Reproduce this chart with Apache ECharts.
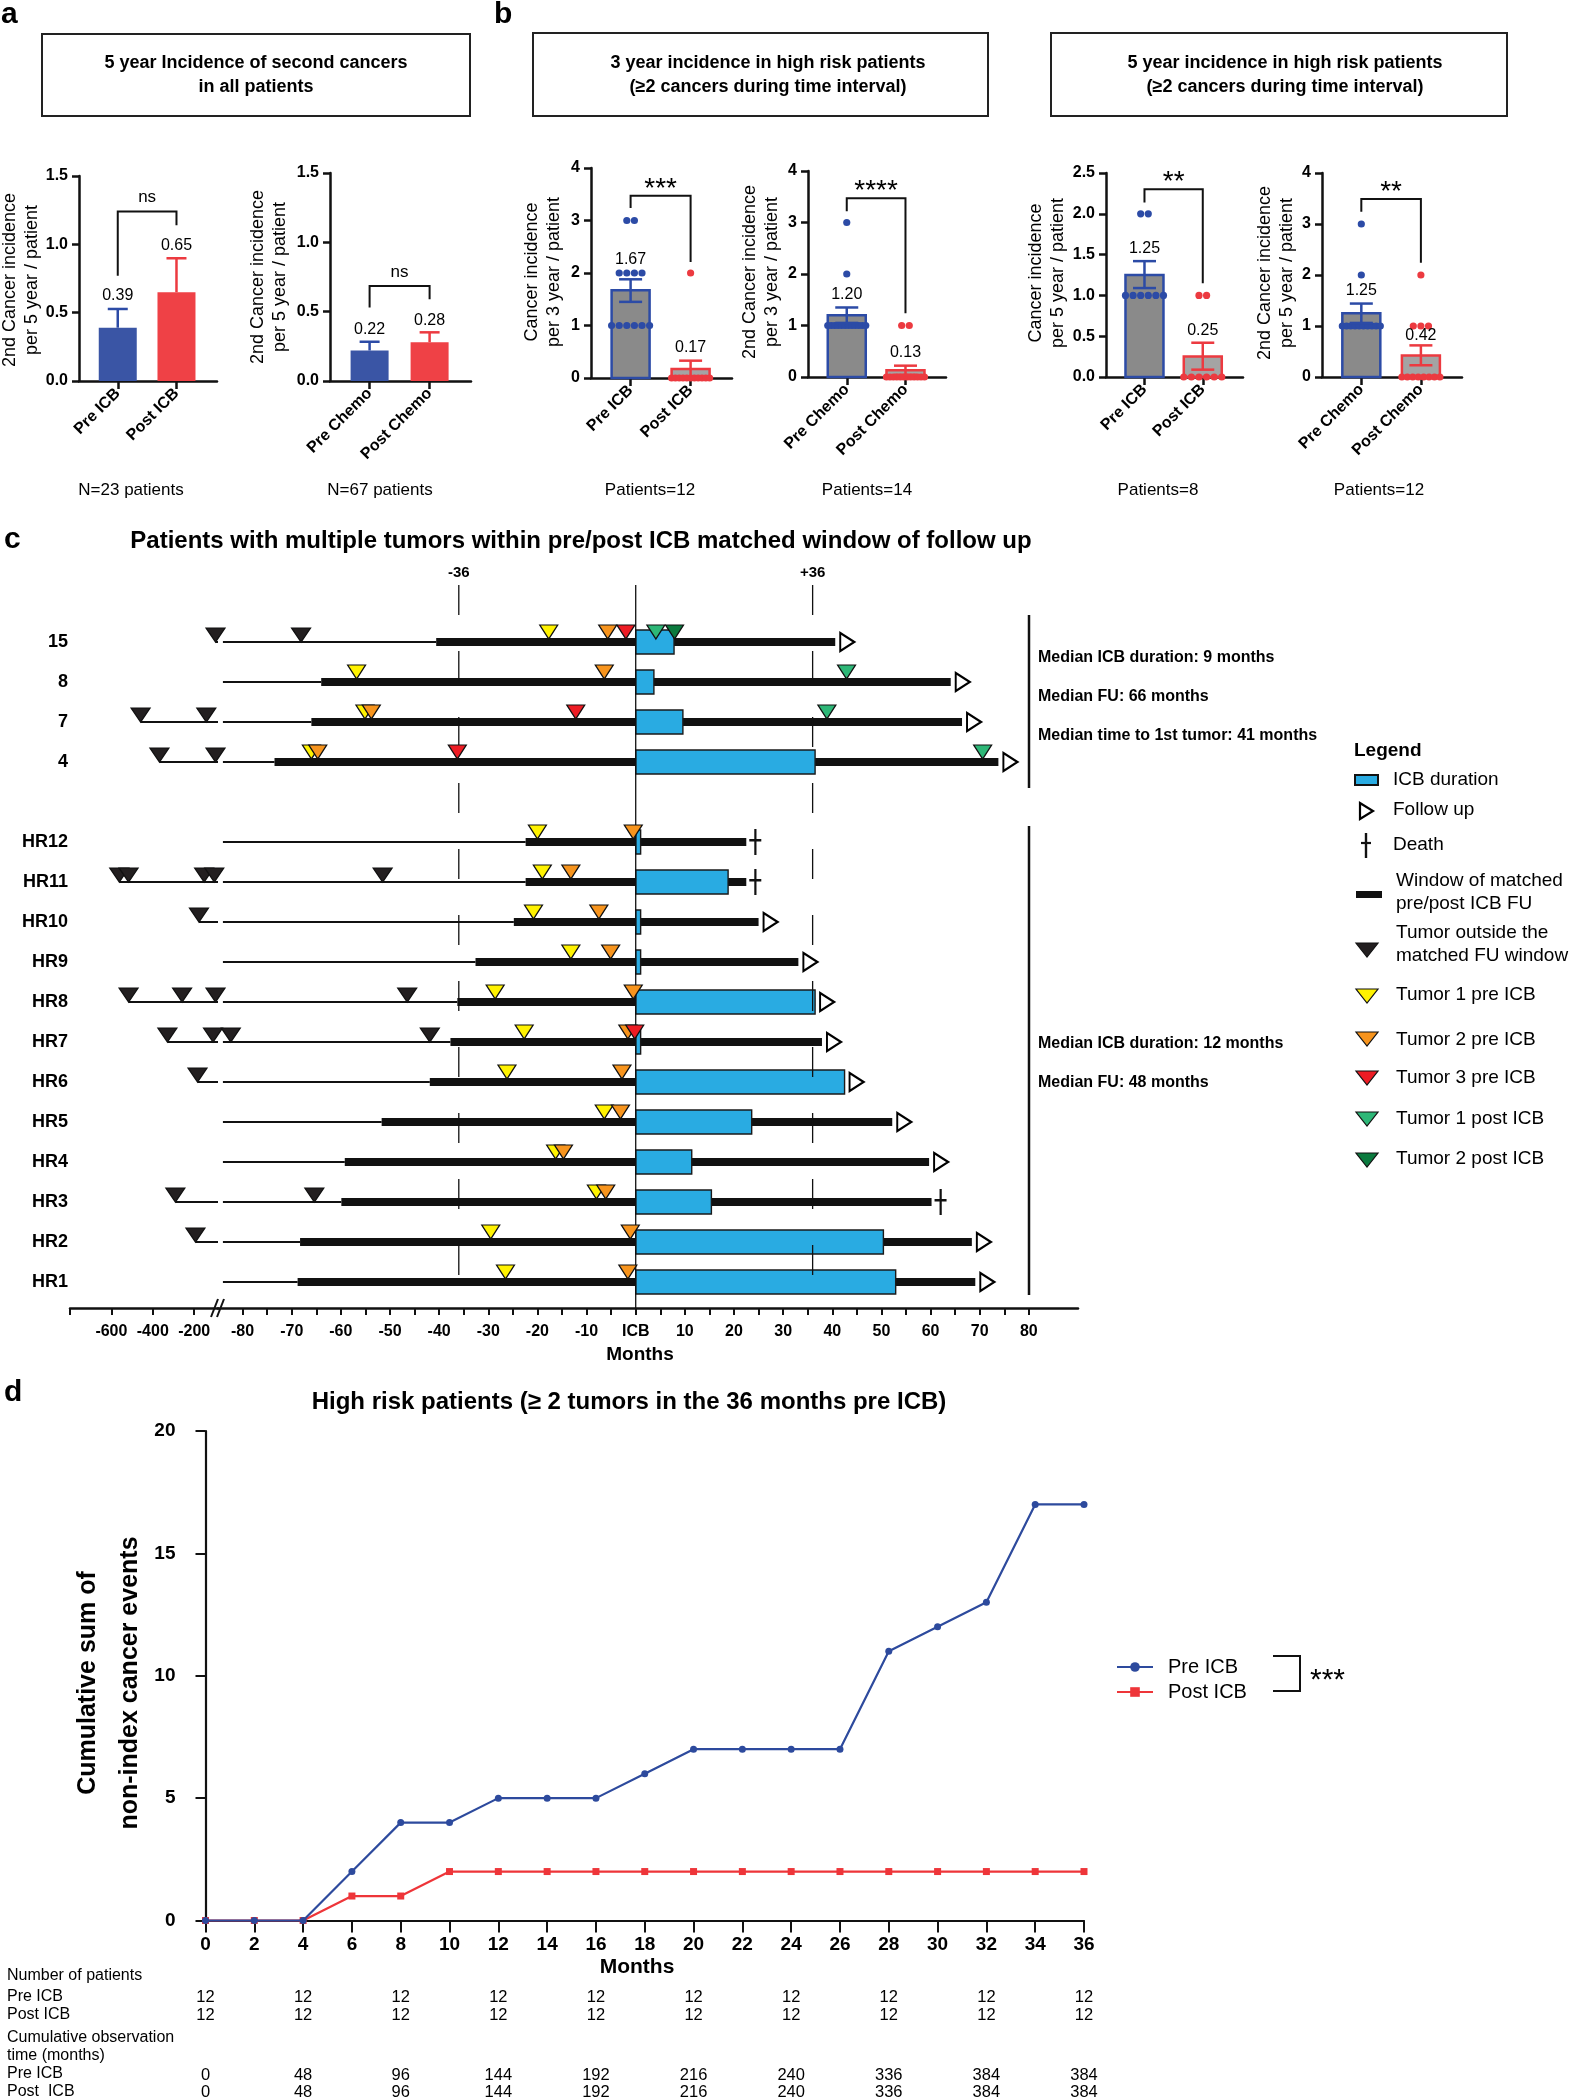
<!DOCTYPE html>
<html>
<head>
<meta charset="utf-8">
<title>Second cancers pre/post ICB</title>
<script src="https://cdn.jsdelivr.net/npm/echarts@6.0.0/dist/echarts.min.js"></script>
<style>
html,body{margin:0;padding:0;background:#ffffff;}
#chart{width:1570px;height:2100px;}
</style>
</head>
<body>
<div id="chart"></div>
<script>
const FONT = '"Liberation Sans", Arial, Helvetica, sans-serif';

/* ================= DATA ================= */
/* Panel a : 5 year incidence of second cancers, all patients */
const a1Groups = ['Pre ICB', 'Post ICB'];
const a1Mean = [0.39, 0.65];
const a1ErrHigh = [0.527, 0.898];
const a2Groups = ['Pre Chemo', 'Post Chemo'];
const a2Mean = [0.22, 0.28];
const a2ErrHigh = [0.283, 0.351];

/* Panel b : high risk patients */
const b1Groups = ['Pre ICB', 'Post ICB'];
const b1Mean = [1.67, 0.17];
const b1ErrLow = [1.45, 0.00];
const b1ErrHigh = [1.88, 0.33];
const b1DotsPre = [3, 3, 2, 2, 2, 2, 1, 1, 1, 1, 1, 1];
const b1DotsPost = [2, 0, 0, 0, 0, 0, 0, 0, 0, 0, 0, 0];

const b2Groups = ['Pre Chemo', 'Post Chemo'];
const b2Mean = [1.20, 0.13];
const b2ErrLow = [1.05, 0.04];
const b2ErrHigh = [1.35, 0.22];
const b2DotsPre = [3, 2, 1, 1, 1, 1, 1, 1, 1, 1, 1, 1, 1, 1];
const b2DotsPost = [1, 1, 0, 0, 0, 0, 0, 0, 0, 0, 0, 0, 0, 0];

const b3Groups = ['Pre ICB', 'Post ICB'];
const b3Mean = [1.25, 0.25];
const b3ErrLow = [1.09, 0.09];
const b3ErrHigh = [1.42, 0.42];
const b3DotsPre = [2, 2, 1, 1, 1, 1, 1, 1];
const b3DotsPost = [1, 1, 0, 0, 0, 0, 0, 0];

const b4Groups = ['Pre Chemo', 'Post Chemo'];
const b4Mean = [1.25, 0.42];
const b4ErrLow = [1.06, 0.23];
const b4ErrHigh = [1.44, 0.62];
const b4DotsPre = [3, 2, 1, 1, 1, 1, 1, 1, 1, 1, 1, 1];
const b4DotsPost = [2, 1, 1, 1, 0, 0, 0, 0, 0, 0, 0, 0];

const sigText = ['ns', 'ns', '***', '****', '**', '**'];
const sigBarY = [1.24, 0.685, 3.47, 3.47, 2.30, 3.49];
const sigLeftY = [0.77, 0.53, 3.24, 3.22, 2.14, 3.24];
const sigRightY = [1.14, 0.59, 2.21, 1.24, 1.15, 2.24];

const yMaxSmall = [1.5, 1.5, 4, 4, 2.5, 4];
const yStepSmall = [0.5, 0.5, 1, 1, 0.5, 1];
const yDecimals = [1, 1, 0, 0, 1, 0];
const footers = ['N=23 patients', 'N=67 patients', 'Patients=12', 'Patients=14', 'Patients=8', 'Patients=12'];
const yTitles = [
  '2nd Cancer incidence\nper 5 year / patient',
  '2nd Cancer incidence\nper 5 year / patient',
  'Cancer incidence\nper 3 year / patient',
  '2nd Cancer incidence\nper 3 year / patient',
  'Cancer incidence\nper 5 year / patient',
  '2nd Cancer incidence\nper 5 year / patient'
];
const boxTitles = [
  '5 year Incidence of second cancers\nin all patients',
  '3 year incidence in high risk patients\n(\u22652 cancers during time interval)',
  '5 year incidence in high risk patients\n(\u22652 cancers during time interval)'
];

/* Panel c : swimmer plot */
const patients = ['HR1', 'HR2', 'HR3', 'HR4', 'HR5', 'HR6', 'HR7', 'HR8', 'HR9', 'HR10', 'HR11', 'HR12', '4', '7', '8', '15'];
const rowLevel = [0, 1, 2, 3, 4, 5, 6, 7, 8, 9, 10, 11, 13, 14, 15, 16];
const windowStart = [-68.8, -68.3, -59.9, -59.2, -51.7, -41.9, -37.7, -36.3, -32.6, -24.8, -22.4, -22.4, -73.5, -66.0, -64.0, -40.6];
const windowEnd = [69.1, 68.4, 60.2, 59.7, 52.2, 42.5, 37.9, 36.5, 33.1, 25.0, 22.5, 22.5, 73.8, 66.4, 64.1, 40.6];
const icbEnd = [52.9, 50.4, 15.4, 11.4, 23.6, 42.5, 1.0, 36.5, 1.0, 1.0, 18.8, 1.0, 36.5, 9.6, 3.7, 7.8];
const outcome = ['FU', 'FU', 'Death', 'FU', 'FU', 'FU', 'FU', 'FU', 'FU', 'FU', 'Death', 'Death', 'FU', 'FU', 'FU', 'FU'];
const historyStartRight = -84;
const axisBreakAt = -85;

const tumorOutside = [
  ['HR2', -194], ['HR3', -291], ['HR3', -65.4], ['HR6', -184],
  ['HR7', -329.5], ['HR7', -109], ['HR7', -82.4], ['HR7', -41.9],
  ['HR8', -517], ['HR8', -258.5], ['HR8', -97], ['HR8', -46.5],
  ['HR10', -177], ['HR11', -562], ['HR11', -517], ['HR11', -152], ['HR11', -103], ['HR11', -51.5],
  ['4', -368], ['4', -97], ['7', -459], ['7', -141.5], ['15', -97], ['15', -68.1]
];
const tumor1Pre = [['HR1', -26.5], ['HR2', -29.5], ['HR3', -8.0], ['HR4', -16.3], ['HR5', -6.4], ['HR6', -26.2], ['HR7', -22.7], ['HR8', -28.6], ['HR9', -13.2], ['HR10', -20.8], ['HR11', -19.0], ['HR12', -20.0], ['4', -66.0], ['7', -55.1], ['8', -56.8], ['15', -17.7]];
const tumor2Pre = [['HR1', -1.6], ['HR2', -1.1], ['HR3', -6.1], ['HR4', -14.7], ['HR5', -3.1], ['HR6', -2.8], ['HR7', -1.6], ['HR8', -0.5], ['HR9', -5.1], ['HR10', -7.5], ['HR11', -13.2], ['HR12', -0.5], ['4', -64.7], ['7', -53.8], ['8', -6.4], ['15', -5.7]];
const tumor3Pre = [['HR7', -0.2], ['4', -36.3], ['7', -12.2], ['15', -2.0]];
const tumor1Post = [['4', 70.6], ['7', 38.9], ['8', 42.9], ['15', 4.1]];
const tumor2Post = [['15', 7.9]];

const tumorTypeNames = ['Tumor outside the\nmatched FU window', 'Tumor 1 pre ICB', 'Tumor 2 pre ICB', 'Tumor 3 pre ICB', 'Tumor 1 post ICB', 'Tumor 2 post ICB'];
const tumorTypeColors = ['#231F20', '#FFF200', '#F7941D', '#ED1C24', '#2DB777', '#0B7A3E'];

const xTickLabelsLeft = [-600, -400, -200];
const xTicksLeft = [-800, -600, -400, -200];
const xTickLabelsRight = [-80, -70, -60, -50, -40, -30, -20, -10, 0, 10, 20, 30, 40, 50, 60, 70, 80];
const xTicksRight = [-80, -75, -70, -65, -60, -55, -50, -45, -40, -35, -30, -25, -20, -15, -10, -5, 0, 5, 10, 15, 20, 25, 30, 35, 40, 45, 50, 55, 60, 65, 70, 75, 80];
const refLineMonths = [-36, 0, 36];
const medianTextsTop = ['Median ICB duration: 9 months', 'Median FU: 66 months', 'Median time to 1st tumor: 41 months'];
const medianTextsBottom = ['Median ICB duration: 12 months', 'Median FU: 48 months'];

/* Panel d : cumulative sum */
const monthsD = [0, 2, 4, 6, 8, 10, 12, 14, 16, 18, 20, 22, 24, 26, 28, 30, 32, 34, 36];
const cumPreICB = [0, 0, 0, 2, 4, 4, 5, 5, 5, 6, 7, 7, 7, 7, 11, 12, 13, 17, 17];
const cumPostICB = [0, 0, 0, 1, 1, 2, 2, 2, 2, 2, 2, 2, 2, 2, 2, 2, 2, 2, 2];
const tableMonths = [0, 4, 8, 12, 16, 20, 24, 28, 32, 36];
const patientsPre = [12, 12, 12, 12, 12, 12, 12, 12, 12, 12];
const patientsPost = [12, 12, 12, 12, 12, 12, 12, 12, 12, 12];
const obsTimePre = [0, 48, 96, 144, 192, 216, 240, 336, 384, 384];
const obsTimePost = [0, 48, 96, 144, 192, 216, 240, 336, 384, 384];

/* ================= BUILD ================= */
const grids = [], xAxes = [], yAxes = [], series = [], G = [];

function txtStyle(text, x, y, o) {
  o = o || {};
  const align = o.align || 'left', va = o.va || 'middle';
  return {
    text: text, x: x, y: y, fill: '#000', fontFamily: FONT,
    fontSize: o.size || 16, fontWeight: o.bold ? 'bold' : 'normal',
    align: align, textAlign: align, verticalAlign: va, textVerticalAlign: va,
    lineHeight: o.lh || undefined
  };
}
function addText(text, x, y, o) {
  o = o || {};
  if (o.rot) {
    G.push({ type: 'text', x: x, y: y, rotation: o.rot, silent: true, style: txtStyle(text, 0, 0, o) });
  } else {
    G.push({ type: 'text', silent: true, style: txtStyle(text, x, y, o) });
  }
}
function addLine(x1, y1, x2, y2, w) {
  G.push({ type: 'line', silent: true, shape: { x1: x1, y1: y1, x2: x2, y2: y2 }, style: { stroke: '#111', lineWidth: w || 2 } });
}

/* ---------- panels a & b ---------- */
const smallSpecs = [
  { groups: a1Groups, mean: a1Mean, low: a1Mean, high: a1ErrHigh, dots: null, solid: true },
  { groups: a2Groups, mean: a2Mean, low: a2Mean, high: a2ErrHigh, dots: null, solid: true },
  { groups: b1Groups, mean: b1Mean, low: b1ErrLow, high: b1ErrHigh, dots: [b1DotsPre, b1DotsPost], solid: false },
  { groups: b2Groups, mean: b2Mean, low: b2ErrLow, high: b2ErrHigh, dots: [b2DotsPre, b2DotsPost], solid: false },
  { groups: b3Groups, mean: b3Mean, low: b3ErrLow, high: b3ErrHigh, dots: [b3DotsPre, b3DotsPost], solid: false },
  { groups: b4Groups, mean: b4Mean, low: b4ErrLow, high: b4ErrHigh, dots: [b4DotsPre, b4DotsPost], solid: false }
];
const SM = {
  left: [79, 330, 591, 808, 1106, 1322],
  width: [138, 141, 141, 138, 137, 140],
  top: [176, 173, 168, 171, 173, 173],
  bottom: [381, 381, 378, 377, 377, 377],
  titleX: [21, 269, 543, 761, 1047, 1276],
  titleY: [280, 277, 272, 272, 273, 273],
  footX: [131, 380, 650, 867, 1158, 1379],
  labelLift: [[13, 13], [12, 12], [20, 13], [13, 13], [13, 12], [13, 10]]
};
const SOLID_FILL = ['#3A55A5', '#EF4146'];
const OUTLINE = ['#2C4BA6', '#EC3A40'];
const GRAY_FILL = ['#8A8A8A', '#A4A4A4'];
const BAR_W = 38;

function spreadDots(vals, x, gi) {
  const counts = {}, seen = {};
  vals.forEach(v => { counts[v] = (counts[v] || 0) + 1; });
  return vals.map(v => {
    const n = counts[v];
    seen[v] = seen[v] === undefined ? 0 : seen[v] + 1;
    const sp = n > 1 ? Math.min(7.6, BAR_W / (n - 1)) : 0;
    return [x, v, (seen[v] - (n - 1) / 2) * sp, gi];
  });
}

smallSpecs.forEach((s, k) => {
  grids.push({ left: SM.left[k], top: SM.top[k], width: SM.width[k], height: SM.bottom[k] - SM.top[k], outerBoundsMode: 'none', containLabel: false });
  xAxes.push({
    gridIndex: k, type: 'value', min: -0.66, max: 1.69,
    axisLine: { show: true, onZero: false, lineStyle: { color: '#111', width: 2.5 } },
    axisTick: { show: true, customValues: [0, 1], length: 8, lineStyle: { color: '#111', width: 2.5 } },
    axisLabel: { show: true, customValues: [0, 1], formatter: v => s.groups[Math.round(v)], rotate: 45, margin: 10, fontSize: 16, fontWeight: 'bold', color: '#000', fontFamily: FONT, hideOverlap: false },
    splitLine: { show: false }
  });
  yAxes.push({
    gridIndex: k, type: 'value', min: 0, max: yMaxSmall[k], interval: yStepSmall[k],
    axisLine: { show: true, onZero: false, lineStyle: { color: '#111', width: 2.5 } },
    axisTick: { show: true, length: 7, lineStyle: { color: '#111', width: 2.5 } },
    axisLabel: { show: true, formatter: v => v.toFixed(yDecimals[k]), margin: 11, fontSize: 16, fontWeight: 'bold', color: '#000', fontFamily: FONT, hideOverlap: false },
    splitLine: { show: false }
  });
  // bars
  series.push({
    type: 'custom', xAxisIndex: k, yAxisIndex: k, silent: true, z: 2, clip: false,
    encode: { x: 0, y: 1 },
    data: s.mean.map((m, i) => [i, m, i]),
    renderItem: (p, api) => {
      const i = api.value(2);
      const b = api.coord([api.value(0), 0]);
      const t = api.coord([api.value(0), api.value(1)]);
      const style = s.solid ? { fill: SOLID_FILL[i] } : { fill: GRAY_FILL[i], stroke: OUTLINE[i], lineWidth: 2.5 };
      return { type: 'rect', shape: { x: b[0] - BAR_W / 2, y: t[1], width: BAR_W, height: b[1] - t[1] }, style: style };
    }
  });
  // dots
  if (s.dots) {
    const dd = [].concat(spreadDots(s.dots[0], 0, 0), spreadDots(s.dots[1], 1, 1));
    series.push({
      type: 'custom', xAxisIndex: k, yAxisIndex: k, silent: true, z: 3, clip: false,
      encode: { x: 0, y: 1 },
      data: dd,
      renderItem: (p, api) => {
        const c = api.coord([api.value(0), api.value(1)]);
        return { type: 'circle', shape: { cx: c[0] + api.value(2), cy: c[1], r: 3.6 }, style: { fill: OUTLINE[api.value(3)] } };
      }
    });
  }
  // error bars + mean labels
  series.push({
    type: 'custom', xAxisIndex: k, yAxisIndex: k, silent: true, z: 4, clip: false,
    encode: { x: 0, y: 2 },
    data: s.mean.map((m, i) => [i, s.low[i], s.high[i], m, i]),
    renderItem: (p, api) => {
      const x = api.value(0), i = api.value(4);
      const pl = api.coord([x, api.value(1)]), ph = api.coord([x, api.value(2)]);
      const c = OUTLINE[i], cw = s.solid ? 10 : 11.5;
      const ch = [
        { type: 'line', shape: { x1: pl[0], y1: pl[1], x2: ph[0], y2: ph[1] }, style: { stroke: c, lineWidth: 2.5 } },
        { type: 'line', shape: { x1: ph[0] - cw, y1: ph[1], x2: ph[0] + cw, y2: ph[1] }, style: { stroke: c, lineWidth: 2.5 } }
      ];
      if (!s.solid) ch.push({ type: 'line', shape: { x1: pl[0] - cw, y1: pl[1], x2: pl[0] + cw, y2: pl[1] }, style: { stroke: c, lineWidth: 2.5 } });
      ch.push({ type: 'text', style: txtStyle(api.value(3).toFixed(2), ph[0], ph[1] - SM.labelLift[k][i], { align: 'center', size: 16 }) });
      return { type: 'group', children: ch };
    }
  });
  // significance bracket
  series.push({
    type: 'custom', xAxisIndex: k, yAxisIndex: k, silent: true, z: 4, clip: false,
    encode: { x: 0, y: 2 },
    data: [[0, 1, sigBarY[k], sigLeftY[k], sigRightY[k]]],
    renderItem: (p, api) => {
      const a = api.coord([api.value(0), api.value(3)]);
      const b = api.coord([api.value(0), api.value(2)]);
      const c = api.coord([api.value(1), api.value(2)]);
      const d = api.coord([api.value(1), api.value(4)]);
      const t = sigText[k], star = t !== 'ns';
      return {
        type: 'group', children: [
          { type: 'polyline', shape: { points: [a, b, c, d] }, style: { stroke: '#111', lineWidth: 2, fill: null } },
          { type: 'text', style: txtStyle(t, (b[0] + c[0]) / 2, b[1] - (star ? 7 : 14), { align: 'center', size: star ? 28 : 17 }) }
        ]
      };
    }
  });
  addText(yTitles[k], SM.titleX[k], SM.titleY[k], { rot: Math.PI / 2, align: 'center', size: 18, lh: 22 });
  addText(footers[k], SM.footX[k], 490, { align: 'center', size: 17 });
});

// boxed titles
[[42, 34, 428, 82], [533, 33, 455, 83], [1051, 33, 456, 83]].forEach((r, i) => {
  G.push({ type: 'rect', silent: true, shape: { x: r[0], y: r[1], width: r[2], height: r[3] }, style: { fill: 'rgba(0,0,0,0)', stroke: '#222', lineWidth: 2 } });
});
addText(boxTitles[0], 256, 75, { align: 'center', bold: true, size: 18, lh: 24 });
addText(boxTitles[1], 768, 75, { align: 'center', bold: true, size: 18, lh: 24 });
addText(boxTitles[2], 1285, 75, { align: 'center', bold: true, size: 18, lh: 24 });
addText('a', 1, 15, { bold: true, size: 30 });
addText('b', 494, 15, { bold: true, size: 30 });

/* ---------- panel c ---------- */
const lvl = {};
patients.forEach((p, i) => { lvl[p] = rowLevel[i]; });
const GL = 6, GR = 7, GD = 8;
const cTop = 582, cBottom = 1308;
grids.push({ left: 70, top: cTop, width: 148, height: cBottom - cTop, outerBoundsMode: 'none', containLabel: false });
grids.push({ left: 218, top: cTop, width: 860, height: cBottom - cTop, outerBoundsMode: 'none', containLabel: false });
const cAxisLine = { show: true, onZero: false, lineStyle: { color: '#111', width: 2.5 } };
xAxes.push({
  gridIndex: GL, type: 'value', min: -800, max: axisBreakAt,
  axisLine: cAxisLine,
  axisTick: { show: true, customValues: xTicksLeft, length: 7, lineStyle: { color: '#111', width: 2 } },
  axisLabel: { show: true, customValues: xTickLabelsLeft, margin: 16, fontSize: 16, fontWeight: 'bold', color: '#000', fontFamily: FONT, hideOverlap: false },
  splitLine: { show: false }
});
xAxes.push({
  gridIndex: GR, type: 'value', min: axisBreakAt, max: 90,
  axisLine: cAxisLine,
  axisTick: { show: true, customValues: xTicksRight, length: 7, lineStyle: { color: '#111', width: 2 } },
  axisLabel: { show: true, customValues: xTickLabelsRight, formatter: v => (v === 0 ? 'ICB' : String(v)), margin: 16, fontSize: 16, fontWeight: 'bold', color: '#000', fontFamily: FONT, hideOverlap: false },
  splitLine: { show: false }
});
yAxes.push({
  gridIndex: GL, type: 'value', min: -0.65, max: 17.5,
  axisLine: { show: false, onZero: false }, axisTick: { show: false }, splitLine: { show: false },
  axisLabel: { show: true, customValues: rowLevel, formatter: v => patients[rowLevel.indexOf(Math.round(v))] || '', margin: 2, fontSize: 18, fontWeight: 'bold', color: '#000', fontFamily: FONT, hideOverlap: false }
});
yAxes.push({
  gridIndex: GR, type: 'value', min: -0.65, max: 17.5,
  axisLine: { show: false, onZero: false }, axisTick: { show: false }, splitLine: { show: false }, axisLabel: { show: false }
});

function segmentRender(h, style) {
  return function (params, api) {
    const y = api.value(2);
    const p0 = api.coord([api.value(0), y]);
    const p1 = api.coord([api.value(1), y]);
    const cs = params.coordSys;
    const rect = echarts.graphic.clipRectByRect(
      { x: p0[0], y: p0[1] - h / 2, width: p1[0] - p0[0], height: h },
      { x: cs.x, y: cs.y, width: cs.width, height: cs.height });
    return rect ? { type: 'rect', shape: rect, style: Object.assign({}, style) } : null;
  };
}

// left (compressed) region: history lines from the earliest outside tumour up to the axis break
const leftHistory = [];
patients.forEach((p, i) => {
  const ms = tumorOutside.filter(t => t[0] === p && t[1] < axisBreakAt).map(t => t[1]);
  if (ms.length) leftHistory.push([Math.min.apply(null, ms), axisBreakAt, rowLevel[i]]);
});
series.push({ type: 'custom', xAxisIndex: GL, yAxisIndex: GL, silent: true, z: 2, encode: { x: [0, 1], y: 2 }, data: leftHistory, renderItem: segmentRender(2, { fill: '#111' }) });

const triBase = { symbol: 'triangle', symbolRotate: 180, silent: true, z: 6 };
series.push(Object.assign({
  type: 'scatter', xAxisIndex: GL, yAxisIndex: GL, symbolSize: [19, 14], symbolOffset: [0, -7],
  itemStyle: { color: tumorTypeColors[0], borderColor: '#111', borderWidth: 1.2, opacity: 1 },
  data: tumorOutside.filter(t => t[1] < axisBreakAt).map(t => [t[1], lvl[t[0]]])
}, triBase));

// right (linear) region
series.push({
  type: 'custom', xAxisIndex: GR, yAxisIndex: GR, silent: true, z: 2, encode: { x: [0, 1], y: 2 },
  data: patients.map((p, i) => [historyStartRight, windowStart[i], rowLevel[i]]),
  renderItem: segmentRender(2, { fill: '#111' })
});
series.push({
  type: 'custom', xAxisIndex: GR, yAxisIndex: GR, silent: true, z: 3, encode: { x: [0, 1], y: 2 },
  data: patients.map((p, i) => [windowStart[i], windowEnd[i], rowLevel[i]]),
  renderItem: segmentRender(8, { fill: '#111' })
});
series.push({
  type: 'custom', xAxisIndex: GR, yAxisIndex: GR, silent: true, z: 4, encode: { x: [0, 1], y: 2 },
  data: patients.map((p, i) => [0, icbEnd[i], rowLevel[i]]),
  renderItem: segmentRender(24, { fill: '#29ABE2', stroke: '#1a1a1a', lineWidth: 1.4 })
});
series.push({
  type: 'custom', xAxisIndex: GR, yAxisIndex: GR, silent: true, z: 5, clip: false, encode: { x: 0, y: 1 },
  data: refLineMonths.map(m => [m, 0]),
  renderItem: (params, api) => {
    const v = api.value(0);
    const x = api.coord([v, 0])[0];
    const cs = params.coordSys;
    const dashed = v !== 0;
    const ch = [{ type: 'line', shape: { x1: x, y1: cs.y + 3, x2: x, y2: cs.y + cs.height }, style: { stroke: '#111', lineWidth: 1.3, lineDash: dashed ? [30, 36] : null } }];
    if (dashed) ch.push({ type: 'text', style: txtStyle((v > 0 ? '+' : '') + v, x, cs.y - 9, { align: 'center', bold: true, size: 15 }) });
    return { type: 'group', children: ch };
  }
});
series.push(Object.assign({
  type: 'scatter', xAxisIndex: GR, yAxisIndex: GR, symbolSize: [19, 14], symbolOffset: [0, -7],
  itemStyle: { color: tumorTypeColors[0], borderColor: '#111', borderWidth: 1.2, opacity: 1 },
  data: tumorOutside.filter(t => t[1] >= axisBreakAt).map(t => [t[1], lvl[t[0]]])
}, triBase));
[tumor1Pre, tumor2Pre, tumor3Pre, tumor1Post, tumor2Post].forEach((list, j) => {
  series.push(Object.assign({
    type: 'scatter', xAxisIndex: GR, yAxisIndex: GR, symbolSize: [18, 14], symbolOffset: [0, -10],
    itemStyle: { color: tumorTypeColors[j + 1], borderColor: '#111', borderWidth: 1.2, opacity: 1 },
    data: list.map(t => [t[1], lvl[t[0]]])
  }, triBase));
});
series.push({
  type: 'scatter', xAxisIndex: GR, yAxisIndex: GR, silent: true, z: 6,
  symbol: 'triangle', symbolRotate: -90, symbolSize: [18, 14], symbolOffset: [12, 0],
  itemStyle: { color: '#ffffff', borderColor: '#000', borderWidth: 2.2, opacity: 1 },
  data: patients.map((p, i) => outcome[i] === 'FU' ? [windowEnd[i], rowLevel[i]] : null).filter(Boolean)
});
series.push({
  type: 'scatter', xAxisIndex: GR, yAxisIndex: GR, silent: true, z: 6,
  symbol: 'path://M5,0L7.2,0L7.2,10L12,10L12,12.4L7.2,12.4L7.2,26L5,26L5,12.4L0,12.4L0,10L5,10Z', symbolSize: [12, 26], symbolOffset: [9, 0],
  itemStyle: { color: '#111', opacity: 1 },
  data: patients.map((p, i) => outcome[i] === 'Death' ? [windowEnd[i], rowLevel[i]] : null).filter(Boolean)
});

// axis break marks
addLine(211, 1317, 218, 1299, 2);
addLine(217, 1317, 224, 1299, 2);
// group separators
addLine(1029, 615, 1029, 788, 2.5);
addLine(1029, 826, 1029, 1295, 2.5);
medianTextsTop.forEach((t, i) => addText(t, 1038, 658 + 39 * i, { bold: true, size: 16 }));
medianTextsBottom.forEach((t, i) => addText(t, 1038, 1044 + 39 * i, { bold: true, size: 16 }));
addText('Patients with multiple tumors within pre/post ICB matched window of follow up', 581, 541, { align: 'center', bold: true, size: 24 });
addText('Months', 640, 1355, { align: 'center', bold: true, size: 19 });
addText('c', 4, 540, { bold: true, size: 30 });

// legend of panel c
addText('Legend', 1354, 751, { bold: true, size: 19 });
G.push({ type: 'rect', silent: true, shape: { x: 1355, y: 775, width: 23, height: 10 }, style: { fill: '#29ABE2', stroke: '#111', lineWidth: 2 } });
addText('ICB duration', 1393, 780, { size: 19 });
G.push({ type: 'polygon', silent: true, shape: { points: [[1360, 803], [1360, 819], [1373, 811]] }, style: { fill: '#fff', stroke: '#000', lineWidth: 2.2 } });
addText('Follow up', 1393, 810, { size: 19 });
addLine(1366, 833, 1366, 858, 2.4);
addLine(1361, 843, 1371, 843, 2.2);
addText('Death', 1393, 845, { size: 19 });
G.push({ type: 'rect', silent: true, shape: { x: 1356, y: 891, width: 26, height: 7 }, style: { fill: '#111' } });
addText('Window of matched\npre/post ICB FU', 1396, 892, { size: 19, lh: 23 });
const legIconY = [950, 996, 1039, 1078, 1119, 1160];
const legTextY = [944.5, 995, 1040, 1078, 1119, 1159];
tumorTypeNames.forEach((n, j) => {
  const yc = legIconY[j];
  G.push({ type: 'polygon', silent: true, shape: { points: [[1356, yc - 7], [1378, yc - 7], [1367, yc + 7]] }, style: { fill: tumorTypeColors[j], stroke: '#111', lineWidth: 1.2 } });
  addText(n, 1396, legTextY[j], { size: 19, lh: 23 });
});

/* ---------- panel d ---------- */
grids.push({ left: 205.5, top: 1431, width: 878.5, height: 489.5, outerBoundsMode: 'none', containLabel: false });
xAxes.push({
  gridIndex: GD, type: 'value', min: 0, max: 36, interval: 2,
  axisLine: { show: true, onZero: false, lineStyle: { color: '#111', width: 2.2 } },
  axisTick: { show: true, length: 12, lineStyle: { color: '#111', width: 2 } },
  axisLabel: { show: true, margin: 15, fontSize: 19, fontWeight: 'bold', color: '#000', fontFamily: FONT, hideOverlap: false },
  splitLine: { show: false }
});
yAxes.push({
  gridIndex: GD, type: 'value', min: 0, max: 20, interval: 5,
  axisLine: { show: true, onZero: false, lineStyle: { color: '#111', width: 2.2 } },
  axisTick: { show: true, length: 10, lineStyle: { color: '#111', width: 2 } },
  axisLabel: { show: true, margin: 30, fontSize: 19, fontWeight: 'bold', color: '#000', fontFamily: FONT, hideOverlap: false },
  splitLine: { show: false }
});
series.push({
  type: 'line', name: 'Pre ICB', xAxisIndex: GD, yAxisIndex: GD, silent: true, z: 5, clip: false,
  data: monthsD.map((m, i) => [m, cumPreICB[i]]), symbol: 'circle', symbolSize: 7, showSymbol: true, showAllSymbol: true,
  lineStyle: { color: '#2D4A9D', width: 2.2 }, itemStyle: { color: '#2D4A9D' }
});
series.push({
  type: 'line', name: 'Post ICB', xAxisIndex: GD, yAxisIndex: GD, silent: true, z: 4, clip: false,
  data: monthsD.map((m, i) => [m, cumPostICB[i]]), symbol: 'rect', symbolSize: 7, showSymbol: true, showAllSymbol: true,
  lineStyle: { color: '#EE3539', width: 2.2 }, itemStyle: { color: '#EE3539' }
});
// number-at-risk / observation table aligned to the month axis
const tableRowsY = [1997, 2015, 2075, 2092];
series.push({
  type: 'custom', xAxisIndex: GD, yAxisIndex: GD, silent: true, clip: false, encode: { x: 0, y: 1 },
  data: tableMonths.map((m, i) => [m, 0, patientsPre[i], patientsPost[i], obsTimePre[i], obsTimePost[i]]),
  renderItem: (params, api) => {
    const x = api.coord([api.value(0), 0])[0];
    const vals = [api.value(2), api.value(3), api.value(4), api.value(5)];
    return { type: 'group', children: vals.map((v, j) => ({ type: 'text', style: txtStyle(String(v), x, tableRowsY[j], { align: 'center', size: 16.5 }) })) };
  }
});
['Number of patients', 'Pre ICB', 'Post ICB', 'Cumulative observation', 'time (months)', 'Pre ICB', 'Post  ICB'].forEach((t, i) => {
  addText(t, 7, [1976, 1997, 2015, 2038, 2056, 2074, 2092][i], { size: 16 });
});
addText('High risk patients (\u2265 2 tumors in the 36 months pre ICB)', 629, 1402, { align: 'center', bold: true, size: 24 });
addText('Cumulative sum of\nnon-index cancer events', 109, 1683, { rot: Math.PI / 2, align: 'center', bold: true, size: 25, lh: 42 });
addText('Months', 637, 1967, { align: 'center', bold: true, size: 21 });
addText('d', 4, 1393, { bold: true, size: 30 });
// significance bracket beside legend
G.push({ type: 'polyline', silent: true, shape: { points: [[1273, 1656], [1300, 1656], [1300, 1691], [1273, 1691]] }, style: { stroke: '#111', lineWidth: 2, fill: null } });
addText('***', 1310, 1681, { size: 30 });

const chart = echarts.init(document.getElementById('chart'), null, { renderer: 'canvas', width: 1570, height: 2100 });
chart.setOption({
  animation: false,
  backgroundColor: '#ffffff',
  textStyle: { fontFamily: FONT },
  grid: grids,
  xAxis: xAxes,
  yAxis: yAxes,
  legend: {
    show: true, data: ['Pre ICB', 'Post ICB'], orient: 'vertical', left: 1111, top: 1652,
    itemWidth: 36, itemHeight: 12, itemGap: 5, selectedMode: false,
    textStyle: { fontSize: 20, color: '#000', fontFamily: FONT, padding: [0, 0, 0, 10] }
  },
  series: series,
  graphic: { elements: G }
});
</script>
</body>
</html>
